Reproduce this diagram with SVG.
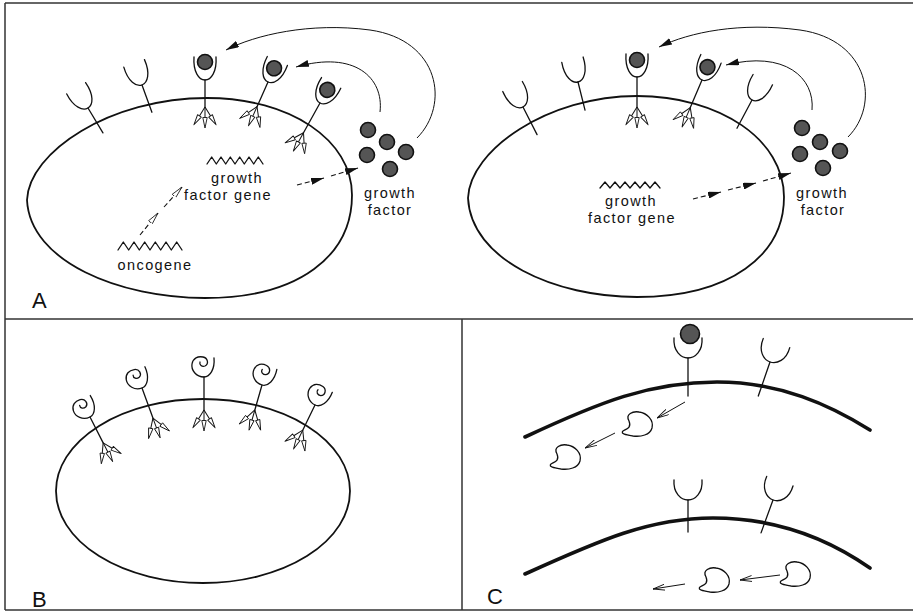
<svg xmlns="http://www.w3.org/2000/svg" xmlns:xlink="http://www.w3.org/1999/xlink" width="913" height="612" viewBox="0 0 913 612">
<style>
  .ln{fill:none;stroke:#111;stroke-width:1.3;stroke-linecap:round;stroke-linejoin:round}
  .mem{fill:none;stroke:#111;stroke-width:1.8}
  .memc{fill:none;stroke:#111;stroke-width:3.6;stroke-linecap:round}
  .frame{fill:none;stroke:#333;stroke-width:1.5}
  .gf{fill:#555;stroke:#111;stroke-width:1.6}
  .t{font-family:"Liberation Sans",Arial,sans-serif;font-size:14.5px;letter-spacing:1.4px;fill:#111;text-anchor:middle}
  .lab{font-family:"Liberation Sans",Arial,sans-serif;font-size:22px;fill:#111}
  .dash{fill:none;stroke:#111;stroke-width:1.1;stroke-dasharray:5 3}
  .thin{fill:none;stroke:#111;stroke-width:1}
</style>
<defs>
  <marker id="fh" viewBox="0 0 13 7" refX="13" refY="3.5" markerWidth="13" markerHeight="7" markerUnits="userSpaceOnUse" orient="auto">
    <path d="M0,0 L13,3.5 L0,7 Z" fill="#111"/>
  </marker>
  <marker id="oh" viewBox="0 0 12 6" refX="12" refY="3" markerWidth="12" markerHeight="6" markerUnits="userSpaceOnUse" orient="auto">
    <path d="M0,0.6 L12,3 L0,5.4 Z" fill="#fff" stroke="#111" stroke-width="0.8"/>
  </marker>
  <marker id="vh" viewBox="0 0 12 7" refX="12" refY="3.5" markerWidth="12" markerHeight="7" markerUnits="userSpaceOnUse" orient="auto">
    <path d="M0,0.5 L12,3.5 L0,6.5" fill="none" stroke="#111" stroke-width="0.9"/>
  </marker>
  <!-- receptor binding cup, origin at the base of the cup -->
  <path id="cup" class="ln" d="M-11,-23 C-12,-8 -6,0 0,0 C6,0 12,-8 11,-23"/>
  <path id="cupw" class="ln" d="M-14,-20 C-15,-7 -7,0 0,0 C7,0 15,-7 14,-20"/>
  <!-- curled (altered) receptor head -->
  <path id="spiral" class="ln" d="M10,-19 C11,-8 6,0 0,0 C-8,0 -13,-7 -12,-13 C-11,-19 -6,-21 -1,-20 C4,-19 5,-13 1,-11 C-2,-10 -5,-12 -4,-15"/>
  <!-- small signalling arrow and fan of three -->
  <g id="sa">
    <line x1="0" y1="0" x2="0" y2="12" stroke="#111" stroke-width="1"/>
    <path d="M-2.2,10.5 L0,21 L2.2,10.5 Z" fill="#fff" stroke="#111" stroke-width="0.9" stroke-linejoin="round"/>
  </g>
  <g id="fan">
    <use xlink:href="#sa" transform="rotate(32)"/>
    <use xlink:href="#sa"/>
    <use xlink:href="#sa" transform="rotate(-32)"/>
  </g>
  <!-- enzyme-like blob -->
  <path id="blob" class="ln" d="M-8,-3 C-12,-10 -4,-13 2,-12 C10,-11 17,-4 15,4 C13,11 4,13 -4,12 C-10,11 -17,10 -14,7 C-11,5 -5,4 -8,-3 Z"/>
</defs>

<!-- frame -->
<g id="frame" class="frame">
  <line x1="5" y1="3" x2="913" y2="3"/>
  <line x1="5" y1="3" x2="5" y2="610"/>
  <line x1="5" y1="319" x2="913" y2="319"/>
  <line x1="462" y1="319" x2="462" y2="610"/>
  <line x1="5" y1="610" x2="913" y2="610"/>
</g>

<!-- ===== Panel A, left cell ===== -->
<g id="cellA1">
  <path class="mem" d="M27,200 C29,152 110,98 207,98 C290,98 352,140 352,195 C352,255 300,298 205,298 C120,298 30,262 27,200 Z"/>
</g>
<g id="a1-r1" transform="translate(88,108) rotate(-31)">
  <use xlink:href="#cup"/><line class="ln" x1="0" y1="0" x2="0" y2="29"/>
</g>
<g id="a1-r2" transform="translate(142,85) rotate(-20)">
  <use xlink:href="#cup"/><line class="ln" x1="0" y1="0" x2="0" y2="29"/>
</g>
<g id="a1-r3" transform="translate(205,80)">
  <use xlink:href="#cup"/><line class="ln" x1="0" y1="0" x2="0" y2="27"/>
  <circle class="gf" cx="0" cy="-18" r="7.5"/>
  <use xlink:href="#fan" y="27"/>
</g>
<g id="a1-r4" transform="translate(268,82) rotate(24)">
  <use xlink:href="#cup"/><line class="ln" x1="0" y1="0" x2="0" y2="27"/>
  <circle class="gf" cx="0" cy="-15" r="7.5"/>
  <use xlink:href="#fan" y="27"/>
</g>
<g id="a1-r5" transform="translate(320,103) rotate(29)">
  <use xlink:href="#cup"/><line class="ln" x1="0" y1="0" x2="0" y2="34"/>
  <circle class="gf" cx="0" cy="-15" r="7.5"/>
  <use xlink:href="#fan" y="34"/>
</g>
<g id="a1-gf">
  <circle class="gf" cx="368" cy="130" r="7.5"/>
  <circle class="gf" cx="387" cy="142" r="7.5"/>
  <circle class="gf" cx="367" cy="155" r="7.5"/>
  <circle class="gf" cx="406" cy="152" r="7.5"/>
  <circle class="gf" cx="390" cy="169" r="7.5"/>
</g>
<g id="a1-genes">
  <polyline class="ln" points="207,164 211.7,157 216.3,164 221,157 225.7,164 230.3,157 235,164 239.7,157 244.3,164 249,157 253.7,164 258.3,157 263,164"/>
  <polyline class="ln" points="118,250 123.3,242 128.7,250 134,242 139.3,250 144.7,242 150,250 155.3,242 160.7,250 166,242 171.3,250 176.7,242 182,250"/>
  <text class="t" x="237" y="183">growth</text>
  <text class="t" x="228" y="200">factor gene</text>
  <text class="t" x="155" y="270">oncogene</text>
  <text class="t" x="390" y="198">growth</text>
  <text class="t" x="390" y="215">factor</text>
</g>

<!-- ===== Panel A, right cell ===== -->
<g id="cellA2">
  <path class="mem" d="M468,198 C470,150 548,96 637,96 C720,96 784,140 784,197 C784,255 730,297 637,297 C555,297 471,260 468,198 Z"/>
</g>
<g id="a2-r1" transform="translate(523,107) rotate(-27)">
  <use xlink:href="#cup"/><line class="ln" x1="0" y1="0" x2="0" y2="31"/>
</g>
<g id="a2-r2" transform="translate(578,82) rotate(-14)">
  <use xlink:href="#cup"/><line class="ln" x1="0" y1="0" x2="0" y2="29"/>
</g>
<g id="a2-r3" transform="translate(637,77)">
  <use xlink:href="#cup"/><line class="ln" x1="0" y1="0" x2="0" y2="30"/>
  <circle class="gf" cx="0" cy="-17" r="7.5"/>
  <use xlink:href="#fan" y="30"/>
</g>
<g id="a2-r4" transform="translate(702,80) rotate(23)">
  <use xlink:href="#cup"/><line class="ln" x1="0" y1="0" x2="0" y2="30"/>
  <circle class="gf" cx="0" cy="-14" r="7.5"/>
  <use xlink:href="#fan" y="30"/>
</g>
<g id="a2-r5" transform="translate(752,100) rotate(28)">
  <use xlink:href="#cup"/><line class="ln" x1="0" y1="0" x2="0" y2="32"/>
</g>
<g id="a2-gf">
  <circle class="gf" cx="802" cy="128" r="7.5"/>
  <circle class="gf" cx="820" cy="142" r="7.5"/>
  <circle class="gf" cx="800" cy="154" r="7.5"/>
  <circle class="gf" cx="840" cy="151" r="7.5"/>
  <circle class="gf" cx="823" cy="168" r="7.5"/>
</g>
<g id="a2-genes">
  <polyline class="ln" points="600,188 605,182 610,188 615,182 620,188 625,182 630,188 635,182 640,188 645,182 650,188 655,182 660,188"/>
  <text class="t" x="631" y="206">growth</text>
  <text class="t" x="632" y="223">factor gene</text>
  <text class="t" x="822" y="198">growth</text>
  <text class="t" x="823" y="215">factor</text>
</g>

<!-- ===== Panel B ===== -->
<g id="cellB">
  <ellipse class="mem" cx="203" cy="491" rx="147" ry="92"/>
</g>
<g id="b-r1" transform="translate(90,417) rotate(-27)">
  <use xlink:href="#spiral"/><line class="ln" x1="0" y1="0" x2="0" y2="29"/>
  <use xlink:href="#fan" y="29"/>
</g>
<g id="b-r2" transform="translate(142,388) rotate(-20)">
  <use xlink:href="#spiral"/><line class="ln" x1="0" y1="0" x2="0" y2="32"/>
  <use xlink:href="#fan" y="32"/>
</g>
<g id="b-r3" transform="translate(204,377)">
  <use xlink:href="#spiral"/><line class="ln" x1="0" y1="0" x2="0" y2="33"/>
  <use xlink:href="#fan" y="33"/>
</g>
<g id="b-r4" transform="translate(262,385) rotate(16)">
  <use xlink:href="#spiral"/><line class="ln" x1="0" y1="0" x2="0" y2="26"/>
  <use xlink:href="#fan" y="26"/>
</g>
<g id="b-r5" transform="translate(315,405) rotate(26)">
  <use xlink:href="#spiral"/><line class="ln" x1="0" y1="0" x2="0" y2="28"/>
  <use xlink:href="#fan" y="28"/>
</g>

<!-- ===== Panel C ===== -->
<g id="cellC-top">
  <path class="memc" d="M525,437 C600,402 650,382 717,382 C780,382 830,405 870,430"/>
</g>
<g id="c1-r1" transform="translate(688,358)">
  <use xlink:href="#cupw"/><line class="ln" x1="0" y1="0" x2="0" y2="38"/>
  <circle class="gf" cx="2" cy="-24" r="9.5"/>
</g>
<g id="c1-r2" transform="translate(770,362) rotate(19)">
  <use xlink:href="#cupw"/><line class="ln" x1="0" y1="0" x2="0" y2="36"/>
</g>
<use id="c1-blob1" xlink:href="#blob" transform="translate(637,424)"/>
<use id="c1-blob2" xlink:href="#blob" transform="translate(565,457)"/>

<g id="cellC-bottom">
  <path class="memc" d="M525,574 C600,540 650,518 713,518 C780,518 830,540 870,568"/>
</g>
<g id="c2-r1" transform="translate(688,500)">
  <use xlink:href="#cupw"/><line class="ln" x1="0" y1="0" x2="0" y2="32"/>
</g>
<g id="c2-r2" transform="translate(773,500) rotate(20)">
  <use xlink:href="#cupw"/><line class="ln" x1="0" y1="0" x2="0" y2="35"/>
</g>
<use id="c2-blob1" xlink:href="#blob" transform="translate(714,580)"/>
<use id="c2-blob2" xlink:href="#blob" transform="translate(795,574)"/>

<!-- connectors -->
<g id="connectors">
  <!-- secreted factor returning to receptors -->
  <path class="thin" marker-end="url(#fh)" d="M417,138 C450,105 440,40 370,30 C310,22 255,35 226,50"/>
  <path class="thin" marker-end="url(#fh)" d="M380,112 C384,78 355,50 296,67"/>
  <path class="thin" marker-end="url(#fh)" d="M848,137 C880,105 870,40 800,30 C740,22 690,32 659,47"/>
  <path class="thin" marker-end="url(#fh)" d="M812,110 C815,78 785,50 726,65"/>
  <!-- oncogene to growth factor gene -->
  <line class="dash" marker-end="url(#oh)" x1="140" y1="235" x2="158" y2="213"/>
  <line class="dash" marker-end="url(#oh)" x1="164" y1="207" x2="182" y2="187"/>
  <!-- gene product exported -->
  <line class="dash" marker-end="url(#fh)" x1="297" y1="185" x2="324" y2="178"/>
  <line class="dash" marker-end="url(#fh)" x1="331" y1="176" x2="358" y2="168"/>
  <line class="dash" marker-end="url(#fh)" x1="693" y1="199" x2="721" y2="192"/>
  <line class="dash" marker-end="url(#fh)" x1="728" y1="190" x2="756" y2="183"/>
  <line class="dash" marker-end="url(#fh)" x1="763" y1="181" x2="791" y2="173"/>
  <!-- intracellular signal arrows -->
  <line class="thin" marker-end="url(#vh)" x1="685" y1="402" x2="657" y2="418"/>
  <line class="thin" marker-end="url(#vh)" x1="615" y1="433" x2="585" y2="448"/>
  <line class="thin" marker-end="url(#vh)" x1="780" y1="575" x2="740" y2="580"/>
  <line class="thin" marker-end="url(#vh)" x1="685" y1="584" x2="653" y2="589"/>
</g>

<!-- panel labels -->
<g id="labels">
  <text class="lab" x="32" y="308">A</text>
  <text class="lab" x="32" y="607">B</text>
  <text class="lab" x="487" y="604">C</text>
</g>
</svg>
